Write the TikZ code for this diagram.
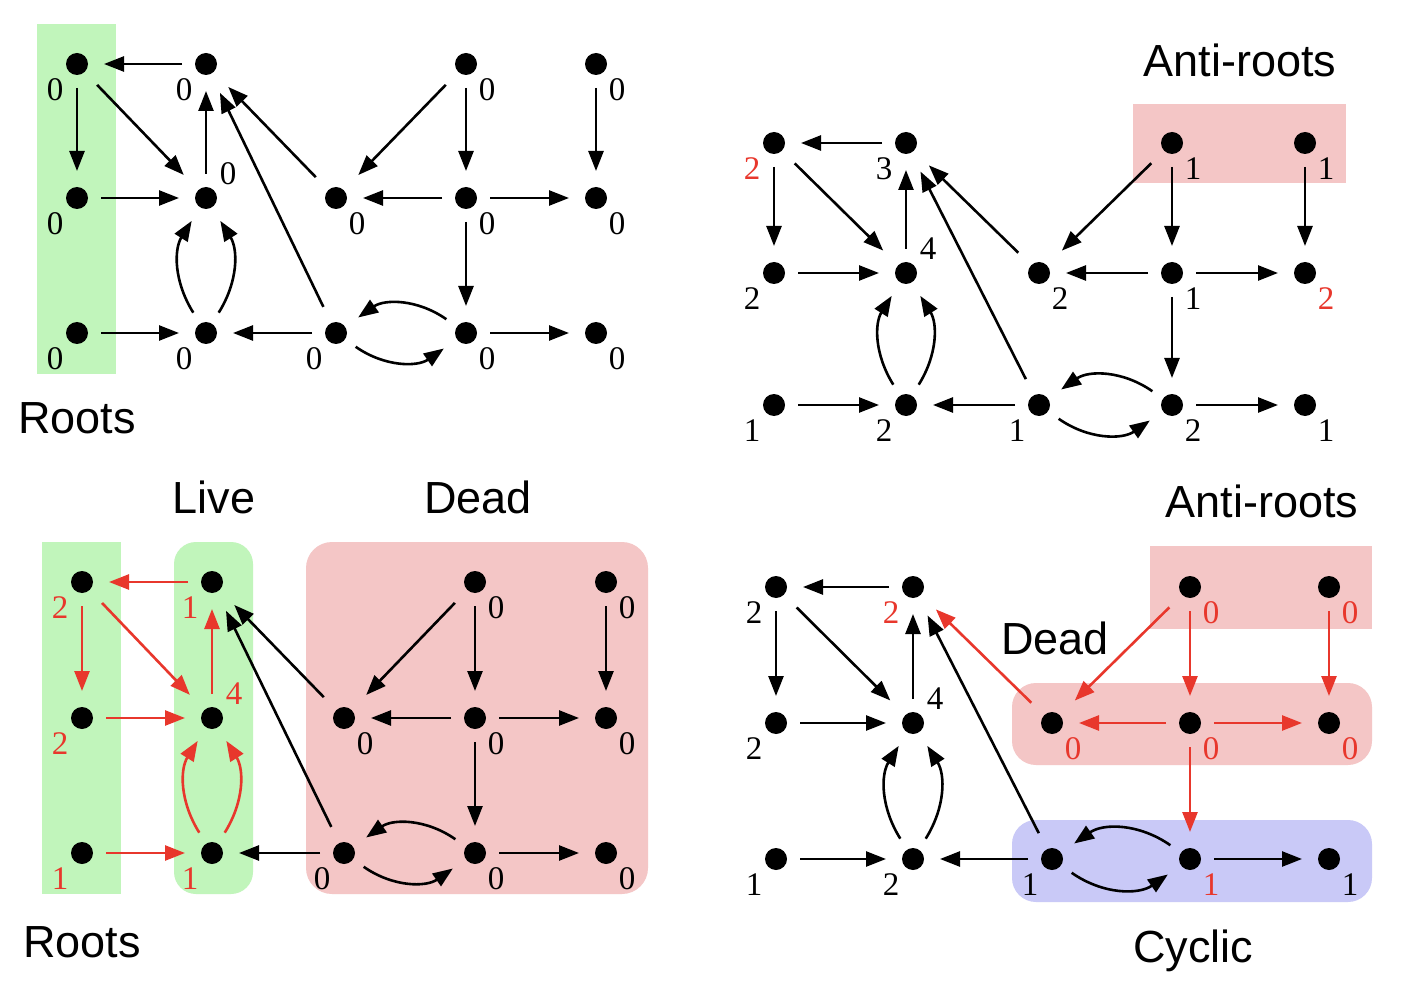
\documentclass[tikz,border=0pt]{standalone}
\usepackage{fontspec}
\setmainfont{Liberation Serif}
\setsansfont{Liberation Sans}
\usetikzlibrary{arrows.meta}
\definecolor{lgreen}{HTML}{C1F5BB}
\definecolor{lpink}{HTML}{F4C6C6}
\definecolor{lblue}{HTML}{C9C9F7}
\definecolor{ered}{HTML}{E8372C}
\newcommand\rt[1]{\textcolor{ered}{#1}}
\tikzset{
 dot/.style={circle,fill=black,inner sep=0pt,minimum size=22pt,outer sep=13pt},
 num/.style={font=\fontsize{33}{33}\selectfont,inner sep=0pt},
 bl/.style={label={[num,xshift=-22pt,yshift=-26pt]center:#1}},
 br/.style={label={[num,xshift=21pt,yshift=-26pt]center:#1}},
 ar/.style={label={[num,xshift=22pt,yshift=24pt]center:#1}},
 arr/.style={line width=2.6pt,-{Triangle[length=20pt,width=15pt]},shorten >=3pt},
 dg/.style={shorten <=5pt,shorten >=8pt},
 rarr/.style={draw=ered},
 title/.style={font=\sffamily\fontsize{45}{45}\selectfont,anchor=base,inner sep=0pt},
 e1/.style={},e2/.style={},e3/.style={},e4/.style={},e5/.style={},
 e6/.style={},e7/.style={},e8/.style={},e9/.style={},e10/.style={},
 e11/.style={},e12/.style={},e13/.style={},e14/.style={},e15/.style={},
 e16/.style={},e17/.style={},e18/.style={},e19/.style={},e20/.style={}
}
\newcommand\alledges[1]{%
 \draw[arr,e1] (#101) -- (#100);
 \draw[arr,e2] (#100) -- (#110);
 \draw[arr,dg,e3] (#100) -- (#111);
 \draw[arr,e4] (#111) -- (#101);
 \draw[arr,e5] (#110) -- (#111);
 \draw[arr,e6] (#120) -- (#121);
 \draw[arr,e7] (#121) to[bend left=32] (#111);
 \draw[arr,e8] (#121) to[bend right=32] (#111);
 \draw[arr,dg,e9] (#122) -- (#101);
 \draw[arr,dg,e10] (#112) -- (#101);
 \draw[arr,dg,e11] (#103) -- (#112);
 \draw[arr,e12] (#103) -- (#113);
 \draw[arr,e13] (#113) -- (#112);
 \draw[arr,e14] (#113) -- (#114);
 \draw[arr,e15] (#104) -- (#114);
 \draw[arr,e16] (#113) -- (#123);
 \draw[arr,e17] (#122) -- (#121);
 \draw[arr,e18] (#123) to[bend right=35] (#122);
 \draw[arr,e19] (#122) to[bend right=35] (#123);
 \draw[arr,e20] (#123) -- (#124);
}
\begin{document}
\begin{tikzpicture}[x=1pt,y=-1pt]
\useasboundingbox (0,0) rectangle (1406,1000);
\fill[white] (0,0) rectangle (1406,1000);
% ---------- backgrounds
\fill[lgreen] (37,24) rectangle (116,374);
\fill[lpink] (1133,104) rectangle (1346,183);
\fill[lgreen] (42,542) rectangle (121,894);
\fill[lgreen,rounded corners=22pt] (174,542) rectangle (253,894);
\fill[lpink,rounded corners=26pt] (306,542) rectangle (648,894);
\fill[lpink] (1150,546) rectangle (1372,629);
\fill[lpink,rounded corners=24pt] (1012,683) rectangle (1372,765);
\fill[lblue,rounded corners=24pt] (1012,820) rectangle (1372,902);
% ---------- titles
\node[title] (tA) at (77,433) {Roots};
\node[title] (tB) at (1240,77) {Anti-roots};
\node[title] (tC1) at (214,513) {Live};
\node[title] (tC2) at (478,513) {Dead};
\node[title] (tC3) at (82,957) {Roots};
\node[title] (tD1) at (1262,517) {Anti-roots};
\node[title] (tD2) at (1055,654) {Dead};
\node[title] (tD3) at (1193,962) {Cyclic};
% ---------- panel A
\node[dot,bl=0] (a00) at (77,64) {};
\node[dot,bl=0] (a01) at (206,64) {};
\node[dot,br=0] (a03) at (466,64) {};
\node[dot,br=0] (a04) at (596,64) {};
\node[dot,bl=0] (a10) at (77,198) {};
\node[dot,ar=0] (a11) at (206,198) {};
\node[dot,br=0] (a12) at (336,198) {};
\node[dot,br=0] (a13) at (466,198) {};
\node[dot,br=0] (a14) at (596,198) {};
\node[dot,bl=0] (a20) at (77,333) {};
\node[dot,bl=0] (a21) at (206,333) {};
\node[dot,bl=0] (a22) at (336,333) {};
\node[dot,br=0] (a23) at (466,333) {};
\node[dot,br=0] (a24) at (596,333) {};
\alledges{a}
% ---------- panel B
\node[dot,bl=\rt{2}] (b00) at (774,143) {};
\node[dot,bl=3] (b01) at (906,143) {};
\node[dot,br=1] (b03) at (1172,143) {};
\node[dot,br=1] (b04) at (1305,143) {};
\node[dot,bl=2] (b10) at (774,273) {};
\node[dot,ar=4] (b11) at (906,273) {};
\node[dot,br=2] (b12) at (1039,273) {};
\node[dot,br=1] (b13) at (1172,273) {};
\node[dot,br=\rt{2}] (b14) at (1305,273) {};
\node[dot,bl=1] (b20) at (774,405) {};
\node[dot,bl=2] (b21) at (906,405) {};
\node[dot,bl=1] (b22) at (1039,405) {};
\node[dot,br=2] (b23) at (1172,405) {};
\node[dot,br=1] (b24) at (1305,405) {};
\alledges{b}
% ---------- panel C
\node[dot,bl=\rt{2}] (c00) at (82,582) {};
\node[dot,bl=\rt{1}] (c01) at (212,582) {};
\node[dot,br=0] (c03) at (475,582) {};
\node[dot,br=0] (c04) at (606,582) {};
\node[dot,bl=\rt{2}] (c10) at (82,718) {};
\node[dot,ar=\rt{4}] (c11) at (212,718) {};
\node[dot,br=0] (c12) at (344,718) {};
\node[dot,br=0] (c13) at (475,718) {};
\node[dot,br=0] (c14) at (606,718) {};
\node[dot,bl=\rt{1}] (c20) at (82,853) {};
\node[dot,bl=\rt{1}] (c21) at (212,853) {};
\node[dot,bl=0] (c22) at (344,853) {};
\node[dot,br=0] (c23) at (475,853) {};
\node[dot,br=0] (c24) at (606,853) {};
\begin{scope}[e1/.style={rarr},e2/.style={rarr},e3/.style={rarr},e4/.style={rarr},
 e5/.style={rarr},e6/.style={rarr},e7/.style={rarr},e8/.style={rarr}]
\alledges{c}
\end{scope}
% ---------- panel D
\node[dot,bl=2] (d00) at (776,587) {};
\node[dot,bl=\rt{2}] (d01) at (913,587) {};
\node[dot,br=\rt{0}] (d03) at (1190,587) {};
\node[dot,br=\rt{0}] (d04) at (1329,587) {};
\node[dot,bl=2] (d10) at (776,723) {};
\node[dot,ar=4] (d11) at (913,723) {};
\node[dot,br=\rt{0}] (d12) at (1052,723) {};
\node[dot,br=\rt{0}] (d13) at (1190,723) {};
\node[dot,br=\rt{0}] (d14) at (1329,723) {};
\node[dot,bl=1] (d20) at (776,859) {};
\node[dot,bl=2] (d21) at (913,859) {};
\node[dot,bl=1] (d22) at (1052,859) {};
\node[dot,br=\rt{1}] (d23) at (1190,859) {};
\node[dot,br=1] (d24) at (1329,859) {};
\begin{scope}[e10/.style={rarr},e11/.style={rarr},e12/.style={rarr},e13/.style={rarr},
 e14/.style={rarr},e15/.style={rarr},e16/.style={rarr}]
\alledges{d}
\end{scope}
\end{tikzpicture}
\end{document}
